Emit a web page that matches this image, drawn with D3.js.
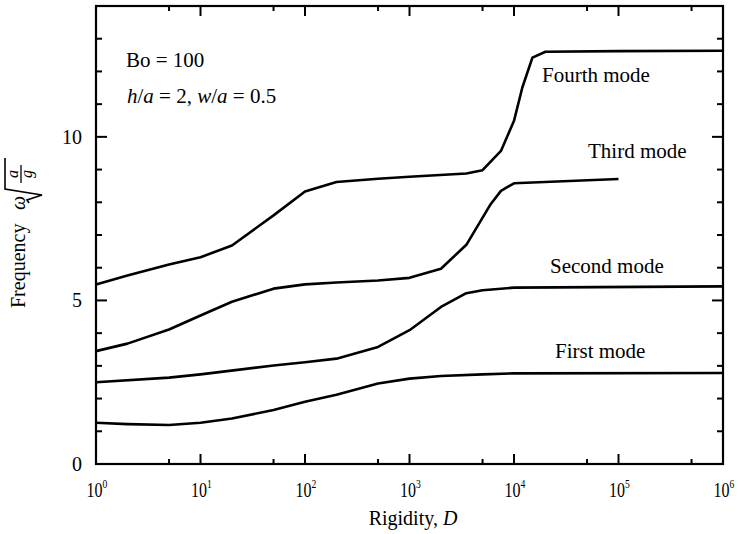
<!DOCTYPE html>
<html>
<head>
<meta charset="utf-8">
<script src="https://cdn.jsdelivr.net/npm/d3@7"></script>
<style>
  body { margin: 0; background: #fff; }
  text { font-family: "Liberation Serif", "Times New Roman", serif; fill: #000; }
</style>
</head>
<body>
<div id="container"></div>
<script>
/* CONSTANTS AND GLOBALS */
const width = 738, height = 534;
const margin = { top: 6, right: 15, bottom: 70, left: 96 };

/* DATA */
const firstD = [1, 2, 5, 10, 20, 50, 100, 200, 500, 1000, 2000, 5000, 10000, 1000000];
const firstMode = [1.26, 1.22, 1.19, 1.26, 1.39, 1.65, 1.9, 2.12, 2.46, 2.61, 2.69, 2.74, 2.77, 2.78];

const secondD = [1, 5, 10, 50, 100, 200, 500, 1000, 2000, 3500, 5000, 10000, 1000000];
const secondMode = [2.5, 2.64, 2.74, 3.01, 3.11, 3.22, 3.58, 4.09, 4.8, 5.22, 5.31, 5.39, 5.43];

const thirdD = [1, 2, 5, 10, 20, 50, 100, 200, 500, 1000, 2000, 3500, 6000, 7500, 10000, 100000];
const thirdMode = [3.45, 3.68, 4.11, 4.54, 4.96, 5.36, 5.49, 5.55, 5.61, 5.69, 5.97, 6.7, 7.95, 8.35, 8.58, 8.71];

const fourthD = [1, 2, 5, 10, 20, 50, 100, 200, 500, 1000, 3500, 5000, 7500, 10000, 12000, 15000, 20000, 100000, 1000000];
const fourthMode = [5.49, 5.76, 6.1, 6.32, 6.68, 7.6, 8.33, 8.62, 8.72, 8.78, 8.88, 8.98, 9.57, 10.49, 11.5, 12.42, 12.6, 12.62, 12.63];

const modeLabels = ["First mode", "Second mode", "Third mode", "Fourth mode"];
const xMajor = [1, 10, 100, 1000, 10000, 100000, 1000000];
const xExp = [0, 1, 2, 3, 4, 5, 6];
const xMinor = [5, 50, 500, 5000, 50000, 500000];
const yMajor = [0, 5, 10];
const yMinor = d3.range(1, 15).filter(v => v % 5 !== 0);

const series = [
  { D: firstD, v: firstMode },
  { D: secondD, v: secondMode },
  { D: thirdD, v: thirdMode },
  { D: fourthD, v: fourthMode }
];

/* SCALES */
const x = d3.scaleLog()
  .domain([1, 1e6])
  .range([margin.left, width - margin.right]);

const y = d3.scaleLinear()
  .domain([0, 14])
  .range([height - margin.bottom, margin.top]);

/* SVG */
const svg = d3.select("#container")
  .append("svg")
  .attr("width", width)
  .attr("height", height);

const x0 = margin.left, x1 = width - margin.right;
const y0 = height - margin.bottom, y1 = margin.top;

// inward ticks on all four sides
const ticks = svg.append("g").attr("stroke", "#000").attr("stroke-width", 2);
function xTicks(vals, len) {
  ticks.append("g").selectAll("line").data(vals).join("line")
    .attr("x1", d => x(d)).attr("x2", d => x(d))
    .attr("y1", y0).attr("y2", y0 - len);
  ticks.append("g").selectAll("line").data(vals).join("line")
    .attr("x1", d => x(d)).attr("x2", d => x(d))
    .attr("y1", y1).attr("y2", y1 + len);
}
function yTicks(vals, len) {
  ticks.append("g").selectAll("line").data(vals).join("line")
    .attr("y1", d => y(d)).attr("y2", d => y(d))
    .attr("x1", x0).attr("x2", x0 + len);
  ticks.append("g").selectAll("line").data(vals).join("line")
    .attr("y1", d => y(d)).attr("y2", d => y(d))
    .attr("x1", x1).attr("x2", x1 - len);
}
xTicks(xMajor, 10);
xTicks(xMinor, 5);
yTicks(yMajor, 11);
yTicks(yMinor, 6);

// frame
svg.append("rect")
  .attr("x", x0).attr("y", y1)
  .attr("width", x1 - x0).attr("height", y0 - y1)
  .attr("fill", "none").attr("stroke", "#000").attr("stroke-width", 2.2);

// y tick labels
svg.selectAll(".ylab")
  .data(yMajor)
  .join("text")
  .attr("class", "ylab")
  .attr("x", 82)
  .attr("y", d => y(d) + 7)
  .attr("text-anchor", "end")
  .attr("font-size", 20)
  .text(d => d);

// x tick labels 10^n (narrow, as in the picture)
const xl = svg.selectAll(".xlab")
  .data(xMajor)
  .join("text")
  .attr("class", "xlab")
  .attr("transform", d => `translate(${x(d) + 1},497) scale(0.8,1)`)
  .attr("text-anchor", "middle")
  .attr("font-size", 20);
xl.append("tspan").text("10");
xl.append("tspan").attr("dy", -9).attr("font-size", 12).text((d, i) => xExp[i]);

// x axis title
const xt = svg.append("text")
  .attr("x", 413).attr("y", 525)
  .attr("text-anchor", "middle")
  .attr("font-size", 20);
xt.append("tspan").text("Rigidity, ");
xt.append("tspan").attr("font-style", "italic").text("D");

// y axis title: Frequency ω sqrt(a/g)
const yt = svg.append("g").attr("transform", "translate(25,308) rotate(-90)");
yt.append("text").attr("x", 0).attr("y", 0).attr("font-size", 20).text("Frequency");
yt.append("text").attr("x", 98).attr("y", 0).attr("font-size", 20).attr("font-style", "italic").text("ω");
yt.append("path")
  .attr("d", "M105,4 L108,2 L113,17 L119,-20 L150,-20")
  .attr("fill", "none").attr("stroke", "#000").attr("stroke-width", 1.6);
yt.append("text").attr("x", 134).attr("y", -7).attr("text-anchor", "middle")
  .attr("font-size", 16).attr("font-style", "italic").text("a");
yt.append("line").attr("x1", 125).attr("x2", 143).attr("y1", -4).attr("y2", -4)
  .attr("stroke", "#000").attr("stroke-width", 1.3);
yt.append("text").attr("x", 134).attr("y", 7).attr("text-anchor", "middle")
  .attr("font-size", 16).attr("font-style", "italic").text("g");

/* LINES */
const line = d3.line()
  .x(d => x(d[0]))
  .y(d => y(d[1]));

svg.selectAll(".mode")
  .data(series)
  .join("path")
  .attr("class", "mode")
  .attr("d", s => line(s.D.map((d, i) => [d, s.v[i]])))
  .attr("fill", "none")
  .attr("stroke", "#000")
  .attr("stroke-width", 2.6)
  .attr("stroke-linejoin", "round");

/* ANNOTATIONS */
const labelPos = [[555, 358], [550, 273], [588, 158], [542, 82]];
svg.selectAll(".mlab")
  .data(modeLabels)
  .join("text")
  .attr("class", "mlab")
  .attr("x", (d, i) => labelPos[i][0])
  .attr("y", (d, i) => labelPos[i][1])
  .attr("font-size", 21)
  .text(d => d);

svg.append("text").attr("x", 126).attr("y", 67).attr("font-size", 21).text("Bo = 100");
const hw = svg.append("text").attr("x", 127).attr("y", 103).attr("font-size", 21);
hw.append("tspan").attr("font-style", "italic").text("h");
hw.append("tspan").text("/");
hw.append("tspan").attr("font-style", "italic").text("a");
hw.append("tspan").text(" = 2, ");
hw.append("tspan").attr("font-style", "italic").text("w");
hw.append("tspan").text("/");
hw.append("tspan").attr("font-style", "italic").text("a");
hw.append("tspan").text(" = 0.5");
</script>
</body>
</html>
